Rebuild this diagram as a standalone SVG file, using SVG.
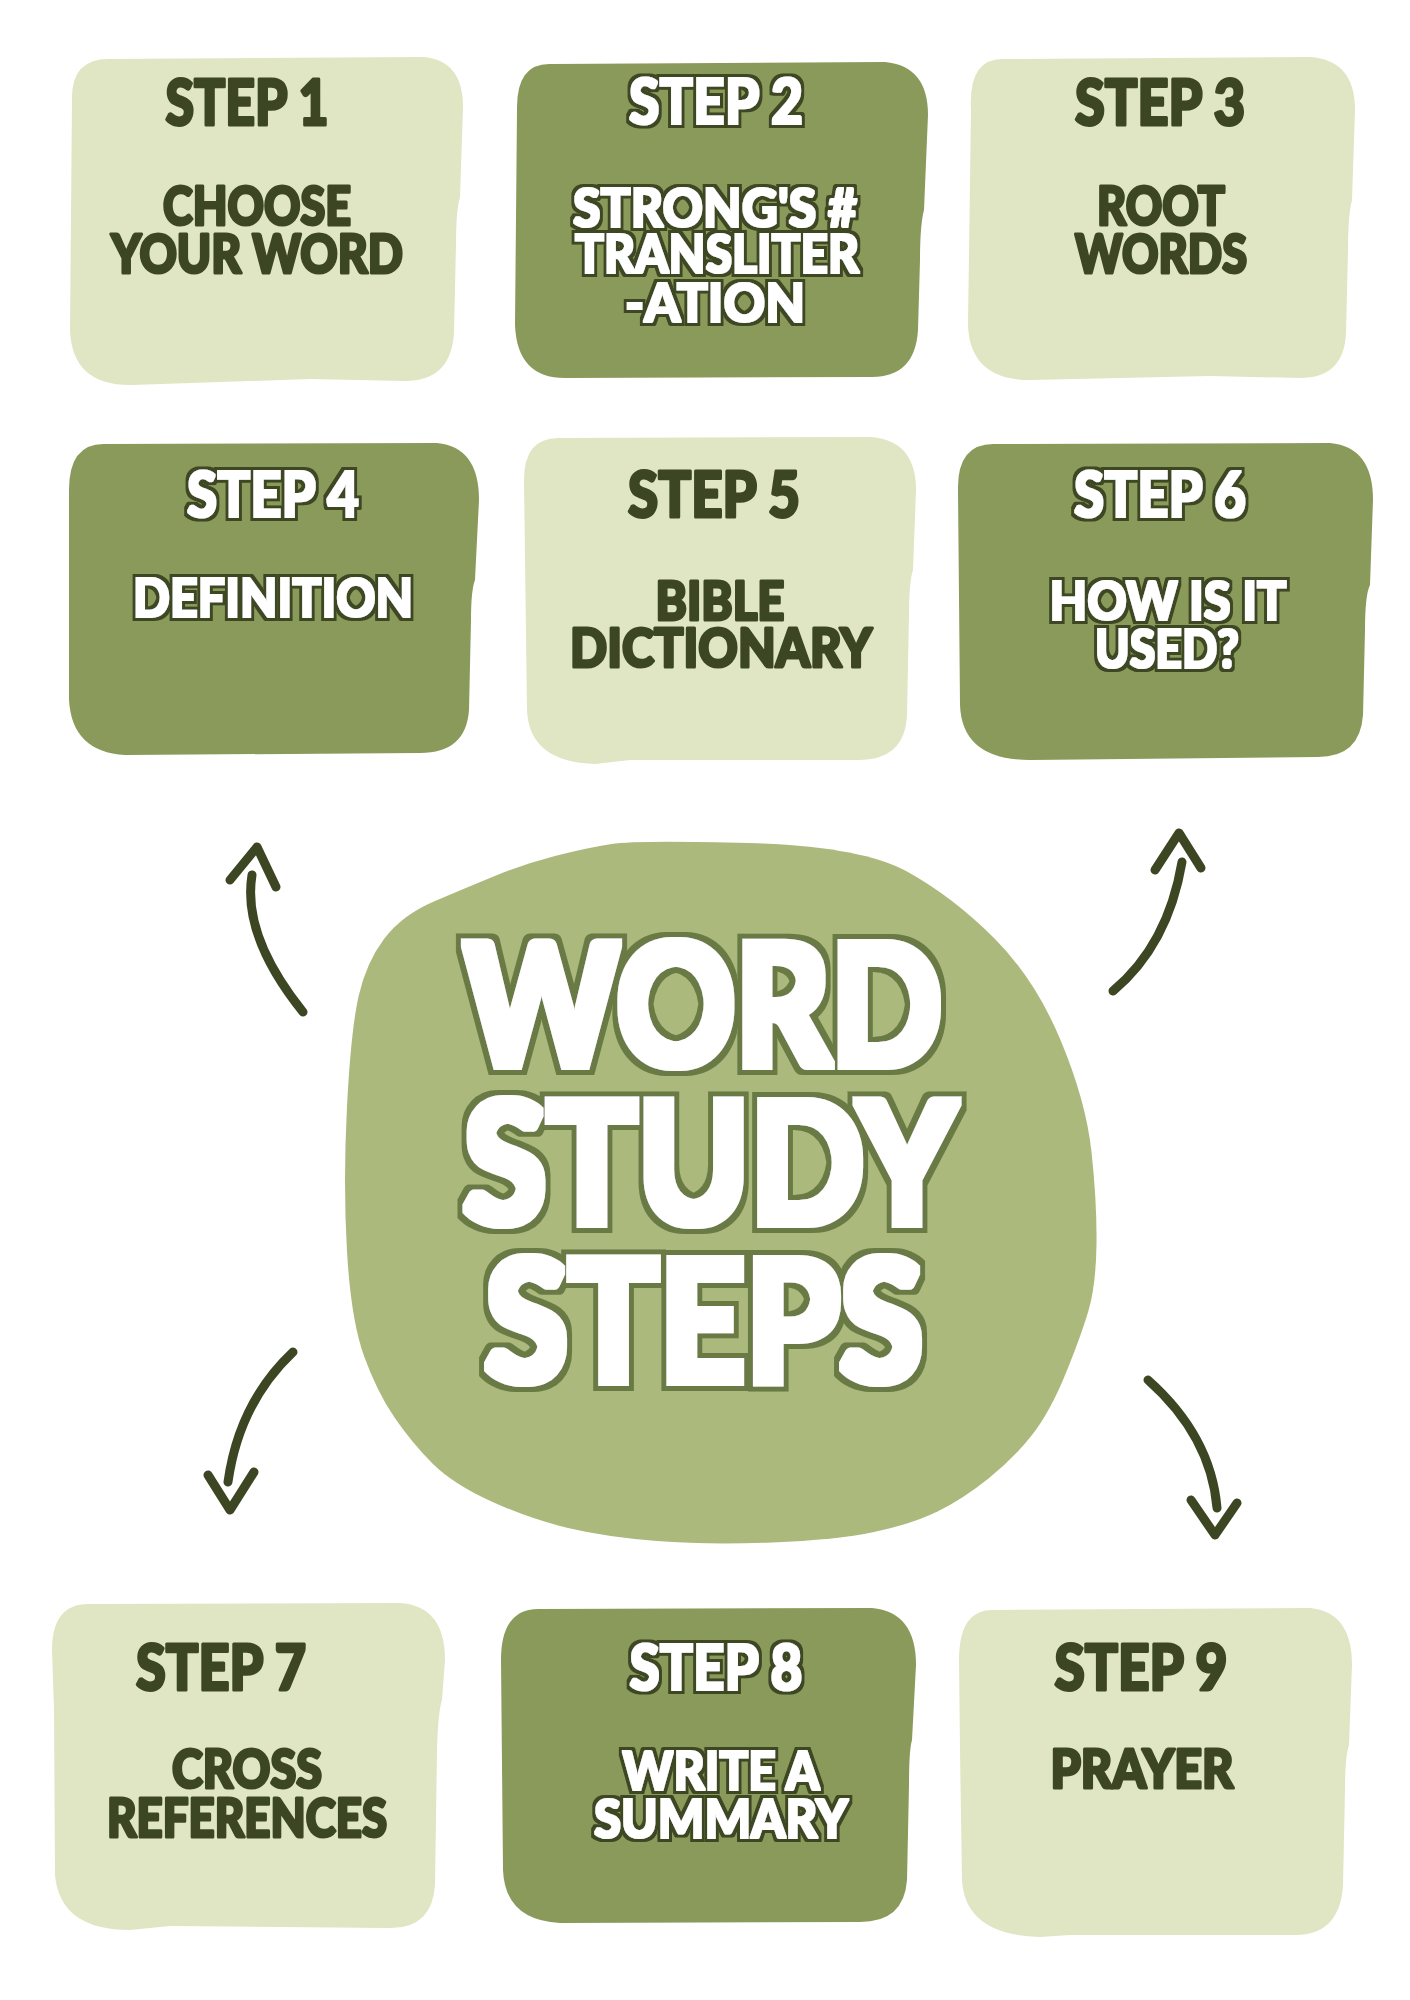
<svg xmlns="http://www.w3.org/2000/svg" width="1410" height="2000" viewBox="0 0 1410 2000">
<style>
.light{fill:#E0E6C3}
.dark{fill:#899A5A}
.blob{fill:#ABB97D}
text{font-family:Lato,"Liberation Sans",sans-serif;font-weight:900;text-anchor:middle}
.h{font-size:62px}
.b{font-size:53px}
.dt{fill:#3D4623;stroke:#3D4623;stroke-width:3;stroke-linejoin:round}
.wt{fill:#ffffff;filter:url(#outW)}
.title{font-size:170px;fill:#ffffff;filter:url(#outT)}
.arrow{fill:none;stroke:#3D4623;stroke-width:9;stroke-linecap:round;stroke-linejoin:round}
</style>
<defs>
<filter id="outW" x="-10%" y="-20%" width="120%" height="140%">
<feMorphology in="SourceAlpha" operator="dilate" radius="1.4" result="thick"/>
<feMorphology in="SourceAlpha" operator="dilate" radius="3.6" result="outer"/>
<feFlood flood-color="#3D4623" result="c1"/>
<feComposite in="c1" in2="outer" operator="in" result="o"/>
<feFlood flood-color="#ffffff" result="c2"/>
<feComposite in="c2" in2="thick" operator="in" result="w"/>
<feMerge><feMergeNode in="o"/><feMergeNode in="w"/></feMerge>
</filter>
<filter id="outT" x="-10%" y="-20%" width="120%" height="140%">
<feMorphology in="SourceAlpha" operator="dilate" radius="4" result="thick"/>
<feMorphology in="SourceAlpha" operator="dilate" radius="8.5" result="outer"/>
<feFlood flood-color="#6B7A45" result="c1"/>
<feComposite in="c1" in2="outer" operator="in" result="o"/>
<feFlood flood-color="#ffffff" result="c2"/>
<feComposite in="c2" in2="thick" operator="in" result="w"/>
<feMerge><feMergeNode in="o"/><feMergeNode in="w"/></feMerge>
</filter>
</defs>
<rect width="1410" height="2000" fill="#ffffff"/>
<g id="center">
<path class="blob" d="M749,843 Q861,846 907,871.5 Q953,897 994,938 Q1035,979 1060.5,1040 Q1086,1101 1091.5,1152 Q1097,1203 1096.5,1244 Q1096,1285 1088.5,1310.5 Q1081,1336 1065.5,1374 Q1050,1412 1032,1435 Q1014,1458 988.5,1478.5 Q963,1499 937.5,1511.5 Q912,1524 874,1532 Q836,1540 772,1542.5 Q708,1545 657,1541 Q606,1537 568,1528 Q530,1519 491.5,1501.5 Q453,1484 432.5,1463.5 Q412,1443 394.5,1417.5 Q377,1392 364,1356 Q351,1320 347,1251.5 Q343,1183 347,1106.5 Q351,1030 358.5,996.5 Q366,963 384,939 Q402,915 435,901 Q468,887 496,875.5 Q524,864 555,856 Q586,848 611.5,844 Q637,840 749,843 Z"/>
<text class="title" x="703" y="1066" textLength="478" lengthAdjust="spacingAndGlyphs">WORD</text>
<text class="title" x="710" y="1224" textLength="493" lengthAdjust="spacingAndGlyphs">STUDY</text>
<text class="title" x="704" y="1382" textLength="438" lengthAdjust="spacingAndGlyphs">STEPS</text>
</g>
<g id="step1">
<path class="light" d="M110,59 L423,57 Q463,60 463,107 L460,197 Q456,210 456,245 L454,333 Q451,381 405,381 L310,379 L132,385 Q72,386 70,330 L72,100 Q71,58 110,59 Z"/>
<text class="h dt" x="247" y="125" textLength="163" lengthAdjust="spacingAndGlyphs">STEP 1</text>
<text class="b dt" x="257" y="225" textLength="188" lengthAdjust="spacingAndGlyphs">CHOOSE</text>
<text class="b dt" x="257" y="273" textLength="292" lengthAdjust="spacingAndGlyphs">YOUR WORD</text>
</g>
<g id="step2">
<path class="dark" d="M552,64 L885,62 Q928,66 928,115 L924,210 Q920,225 920,260 L918,330 Q915,378 870,377 L565,378 Q517,378 515,325 L517,110 Q516,62 552,64 Z"/>
<text class="h wt" x="716" y="124" textLength="174" lengthAdjust="spacingAndGlyphs">STEP 2</text>
<text class="b wt" x="715" y="227" textLength="284" lengthAdjust="spacingAndGlyphs">STRONG'S #</text>
<text class="b wt" x="717" y="273" textLength="284" lengthAdjust="spacingAndGlyphs">TRANSLITER</text>
<text class="b wt" x="715" y="322" textLength="180" lengthAdjust="spacingAndGlyphs">-ATION</text>
</g>
<g id="step3">
<path class="light" d="M1005,59 L1310,57 Q1355,60 1355,110 L1352,200 Q1348,215 1348,250 L1346,333 Q1344,378 1300,378 L1210,376 L1030,380 Q970,380 968,325 L971,110 Q968,57 1005,59 Z"/>
<text class="h dt" x="1160" y="125" textLength="170" lengthAdjust="spacingAndGlyphs">STEP 3</text>
<text class="b dt" x="1161" y="225" textLength="128" lengthAdjust="spacingAndGlyphs">ROOT</text>
<text class="b dt" x="1161" y="273" textLength="172" lengthAdjust="spacingAndGlyphs">WORDS</text>
</g>
<g id="step4">
<path class="dark" d="M105,444 L437,443 Q479,447 479,500 L475,580 Q471,590 471,620 L469,710 Q466,753 420,753 L125,755 Q72,752 69,700 L69,490 Q69,443 105,444 Z"/>
<text class="h wt" x="273" y="517" textLength="172" lengthAdjust="spacingAndGlyphs">STEP 4</text>
<text class="b wt" x="273" y="617" textLength="280" lengthAdjust="spacingAndGlyphs">DEFINITION</text>
</g>
<g id="step5">
<path class="light" d="M560,438 L870,437 Q916,440 916,490 L913,570 Q909,582 909,615 L907,715 Q905,760 858,760 L630,760 L595,764 Q529,762 527,710 L524,480 Q524,437 560,438 Z"/>
<text class="h dt" x="714" y="517" textLength="172" lengthAdjust="spacingAndGlyphs">STEP 5</text>
<text class="b dt" x="720" y="620" textLength="129" lengthAdjust="spacingAndGlyphs">BIBLE</text>
<text class="b dt" x="721" y="667" textLength="302" lengthAdjust="spacingAndGlyphs">DICTIONARY</text>
</g>
<g id="step6">
<path class="dark" d="M995,444 L1330,443 Q1373,447 1373,500 L1370,585 Q1365,595 1365,630 L1363,715 Q1360,757 1318,757 L1030,760 Q962,760 960,705 L958,490 Q957,443 995,444 Z"/>
<text class="h wt" x="1160" y="517" textLength="172" lengthAdjust="spacingAndGlyphs">STEP 6</text>
<text class="b wt" x="1168" y="620" textLength="237" lengthAdjust="spacingAndGlyphs">HOW IS IT</text>
<text class="b wt" x="1167" y="668" textLength="144" lengthAdjust="spacingAndGlyphs">USED?</text>
</g>
<g id="step7">
<path class="light" d="M90,1604 L400,1603 Q445,1606 445,1660 L442,1700 Q438,1712 437,1750 L435,1885 Q432,1930 387,1928 L170,1926 L130,1930 Q60,1930 55,1875 L54,1710 L52,1650 Q52,1603 90,1604 Z"/>
<text class="h dt" x="221" y="1690" textLength="170" lengthAdjust="spacingAndGlyphs">STEP 7</text>
<text class="b dt" x="247" y="1788" textLength="150" lengthAdjust="spacingAndGlyphs">CROSS</text>
<text class="b dt" x="247" y="1837" textLength="280" lengthAdjust="spacingAndGlyphs">REFERENCES</text>
</g>
<g id="step8">
<path class="dark" d="M540,1609 L872,1608 Q916,1612 916,1665 L912,1740 Q909,1750 909,1785 L907,1880 Q904,1922 860,1922 L560,1923 Q505,1920 503,1870 L501,1660 Q501,1608 540,1609 Z"/>
<text class="h wt" x="716" y="1690" textLength="173" lengthAdjust="spacingAndGlyphs">STEP 8</text>
<text class="b wt" x="721" y="1790" textLength="197" lengthAdjust="spacingAndGlyphs">WRITE A</text>
<text class="b wt" x="721" y="1838" textLength="254" lengthAdjust="spacingAndGlyphs">SUMMARY</text>
</g>
<g id="step9">
<path class="light" d="M995,1610 L1310,1608 Q1352,1612 1352,1665 L1349,1745 Q1345,1757 1345,1790 L1343,1885 Q1340,1935 1295,1935 L1070,1935 L1040,1937 Q965,1935 962,1880 L960,1750 L959,1660 Q959,1608 995,1610 Z"/>
<text class="h dt" x="1141" y="1690" textLength="173" lengthAdjust="spacingAndGlyphs">STEP 9</text>
<text class="b dt" x="1142" y="1788" textLength="183" lengthAdjust="spacingAndGlyphs">PRAYER</text>
</g>
<g id="connectors">
<path class="arrow" d="M303,1012 Q242,936 252,875"/>
<path class="arrow" d="M230,880 L257,847 L276,887"/>
<path class="arrow" d="M1113,991 Q1168,945 1182,862"/>
<path class="arrow" d="M1155,870 L1179,833 L1201,868"/>
<path class="arrow" d="M293,1352 Q239,1403 228,1482"/>
<path class="arrow" d="M208,1475 L230,1510 L254,1472"/>
<path class="arrow" d="M1148,1380 Q1211,1436 1217,1508"/>
<path class="arrow" d="M1191,1500 L1215,1535 L1237,1503"/>
</g>
</svg>
